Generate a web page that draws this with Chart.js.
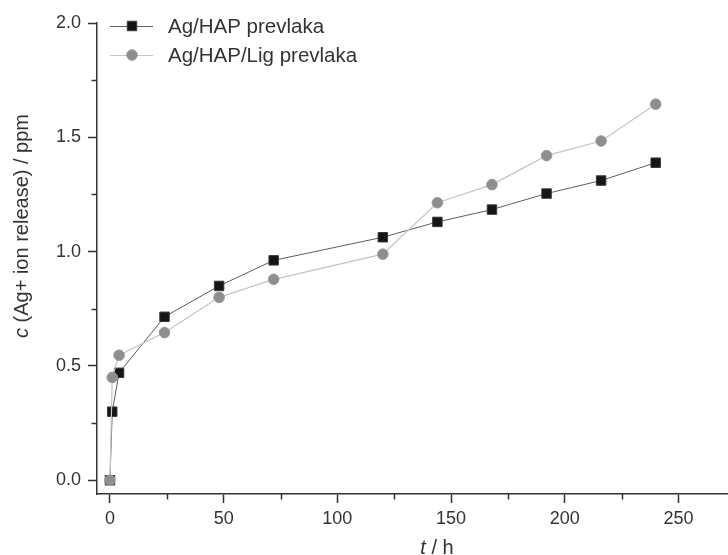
<!DOCTYPE html>
<html>
<head>
<meta charset="utf-8">
<script src="https://cdn.jsdelivr.net/npm/chart.js@4/dist/chart.umd.min.js"></script>
<style>
  html, body { margin: 0; padding: 0; background: #ffffff; overflow: hidden; }
  #c { display: block; }
</style>
</head>
<body>
<canvas id="c" width="728" height="555"></canvas>
<script>
// ---- data ----
const timeH = [0, 1, 4, 24, 48, 72, 120, 144, 168, 192, 216, 240];
const agHap = [0, 0.30, 0.47, 0.715, 0.85, 0.962, 1.063, 1.13, 1.184, 1.254, 1.311, 1.389];
const agHapLig = [0, 0.45, 0.547, 0.646, 0.80, 0.879, 0.989, 1.214, 1.293, 1.42, 1.484, 1.645];
const seriesNames = ['Ag/HAP prevlaka', 'Ag/HAP/Lig prevlaka'];
const xTicks = [0, 50, 100, 150, 200, 250];
const xMinorTicks = [25, 75, 125, 175, 225];
const yTicks = [0, 0.5, 1.0, 1.5, 2.0];
const yMinorTicks = [0.25, 0.75, 1.25, 1.75];
const xTitle = ['t', ' / h'];
const yTitle = ['c', ' (Ag+ ion release) / ppm'];

const AXIS = '#333333';
const TEXT = '#333333';
const FONT = '"Liberation Sans", Arial, sans-serif';

const toXY = (ys) => timeH.map((t, i) => ({ x: t, y: ys[i] }));

const styles = [
  { pointStyle: 'rect', pointRadius: 6.7, backgroundColor: '#151515', borderColor: '#3a3a3a', lineColor: '#5e5e5e', lineWidth: 1 },
  { pointStyle: 'circle', pointRadius: 5.3, backgroundColor: '#8e8e8e', borderColor: '#999999', lineColor: '#c4c4c4', lineWidth: 1.2 }
];

function drawMixed(ctx, parts, x, y, size, align) {
  const fonts = [ 'italic ' + size + 'px ' + FONT, size + 'px ' + FONT ];
  let widths = parts.map((p, i) => { ctx.font = fonts[i]; return ctx.measureText(p).width; });
  const total = widths.reduce((a, b) => a + b, 0);
  let cx = align === 'center' ? x - total / 2 : x;
  parts.forEach((p, i) => { ctx.font = fonts[i]; ctx.fillText(p, cx, y); cx += widths[i]; });
}

const annot = {
  id: 'annot',
  afterDraw(chart) {
    const ctx = chart.ctx;
    const xs = chart.scales.x, ys = chart.scales.y;
    ctx.save();
    // minor ticks
    ctx.strokeStyle = AXIS; ctx.lineWidth = 1.5;
    xMinorTicks.forEach(v => {
      const px = Math.round(xs.getPixelForValue(v)) + 0.5;
      ctx.beginPath(); ctx.moveTo(px, ys.bottom); ctx.lineTo(px, ys.bottom + 5.5); ctx.stroke();
    });
    yMinorTicks.forEach(v => {
      const py = Math.round(ys.getPixelForValue(v)) + 0.5;
      ctx.beginPath(); ctx.moveTo(xs.left, py); ctx.lineTo(xs.left - 5.5, py); ctx.stroke();
    });
    // axis titles
    ctx.fillStyle = TEXT;
    ctx.textBaseline = 'alphabetic';
    ctx.textAlign = 'left';
    drawMixed(ctx, xTitle, 437, 554, 20, 'center');
    ctx.save();
    ctx.translate(28, 226);
    ctx.rotate(-Math.PI / 2);
    drawMixed(ctx, yTitle, 0, 0, 20, 'center');
    ctx.restore();
    // legend
    const rows = [26, 55];
    seriesNames.forEach((name, i) => {
      const st = styles[i];
      const y = rows[i];
      ctx.strokeStyle = st.lineColor; ctx.lineWidth = 1;
      ctx.beginPath(); ctx.moveTo(110, y + 0.5); ctx.lineTo(153, y + 0.5); ctx.stroke();
      ctx.fillStyle = st.backgroundColor; ctx.strokeStyle = st.borderColor; ctx.lineWidth = 1;
      ctx.beginPath();
      if (st.pointStyle === 'rect') {
        const s = st.pointRadius * Math.SQRT1_2;
        ctx.rect(132 - s, y - s, 2 * s, 2 * s);
      } else {
        ctx.arc(132, y, st.pointRadius, 0, Math.PI * 2);
      }
      ctx.fill(); ctx.stroke();
      ctx.fillStyle = TEXT;
      ctx.font = '20.5px ' + FONT;
      ctx.textBaseline = 'middle';
      ctx.fillText(name, 168, y + 1.5);
    });
    ctx.restore();
  }
};

const datasets = [1, 0].map((i) => {
  const st = styles[i];
  return {
    label: seriesNames[i],
    data: toXY(i === 0 ? agHap : agHapLig),
    showLine: true,
    borderColor: st.lineColor,
    borderWidth: st.lineWidth,
    pointStyle: st.pointStyle,
    pointRadius: st.pointRadius,
    pointBackgroundColor: st.backgroundColor,
    pointBorderColor: st.borderColor,
    pointBorderWidth: 1,
    tension: 0,
    fill: false,
    clip: false
  };
});

new Chart(document.getElementById('c'), {
  type: 'scatter',
  data: { datasets },
  options: {
    responsive: false,
    animation: false,
    devicePixelRatio: 1,
    layout: { autoPadding: false, padding: { left: 0, right: 0, top: 23, bottom: 0 } },
    plugins: { legend: { display: false }, tooltip: { enabled: false } },
    scales: {
      x: {
        type: 'linear',
        min: -5.7,
        max: 271.8,
        afterBuildTicks: (s) => { s.ticks = xTicks.map(v => ({ value: v })); },
        afterFit: (s) => { s.height = 61; },
        grid: { drawOnChartArea: false, drawTicks: true, tickLength: 9, tickWidth: 1.5, tickColor: AXIS },
        border: { display: true, color: AXIS, width: 1.5 },
        ticks: { color: TEXT, font: { family: FONT, size: 18 }, padding: 5, maxRotation: 0, autoSkip: false }
      },
      y: {
        type: 'linear',
        min: -0.06,
        max: 2.0,
        afterBuildTicks: (s) => { s.ticks = yTicks.map(v => ({ value: v })); },
        afterFit: (s) => { s.width = 97; },
        grid: { drawOnChartArea: false, drawTicks: true, tickLength: 9, tickWidth: 1.5, tickColor: AXIS },
        border: { display: true, color: AXIS, width: 1.5 },
        ticks: { color: TEXT, font: { family: FONT, size: 18 }, padding: 7, autoSkip: false,
                 callback: (v) => Number(v).toFixed(1) }
      }
    }
  },
  plugins: [annot]
});
</script>
</body>
</html>
